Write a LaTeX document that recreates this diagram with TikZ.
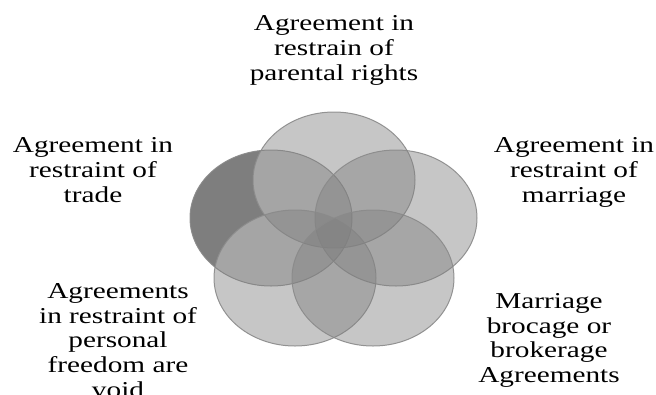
\documentclass[tikz,border=0pt]{standalone}
\usepackage{fontspec}
\setmainfont{Liberation Serif}
\definecolor{petalfill}{RGB}{128,128,128}
\definecolor{petaledge}{RGB}{138,138,138}
\definecolor{darkpetal}{RGB}{126,126,126}
\begin{document}
\begin{tikzpicture}[x=1pt,y=-1pt,
  petal/.style={fill=petalfill, fill opacity=0.45, draw=petaledge, draw opacity=0.9, line width=1pt},
  lbl/.style={font=\fontsize{22.7}{24.8}\selectfont, align=center, inner sep=0pt, anchor=north, xscale=1.29, text=black}]
\useasboundingbox (0,0) rectangle (656,394);
\coordinate (cT) at (334,180);
\coordinate (cL) at (271,218);
\coordinate (cR) at (396,218);
\coordinate (cBL) at (295,278);
\coordinate (cBR) at (373,278);
% dark non-overlapped part of the left petal
\fill[darkpetal] (cL) ellipse [x radius=81, y radius=68];
\begin{scope}
  \clip (cL) ellipse [x radius=81, y radius=68];
  \fill[white] (cT) ellipse [x radius=81, y radius=68];
  \fill[white] (cR) ellipse [x radius=81, y radius=68];
  \fill[white] (cBL) ellipse [x radius=81, y radius=68];
  \fill[white] (cBR) ellipse [x radius=81, y radius=68];
\end{scope}
% petals
\path[petal] (cL) ellipse [x radius=81, y radius=68];
\path[petal] (cT) ellipse [x radius=81, y radius=68];
\path[petal] (cR) ellipse [x radius=81, y radius=68];
\path[petal] (cBL) ellipse [x radius=81, y radius=68];
\path[petal] (cBR) ellipse [x radius=81, y radius=68];
% labels
\node[lbl] (tTop) at (334,14) {\rule{0pt}{16.5pt}Agreement in\\restrain of\\parental rights};
\node[lbl] (tLeft) at (93,136) {\rule{0pt}{16.5pt}Agreement in\\restraint of\\trade};
\node[lbl] (tRight) at (574,136) {\rule{0pt}{16.5pt}Agreement in\\restraint of\\marriage};
\node[lbl] (tBL) at (118,281.5) {\rule{0pt}{16.5pt}Agreements\\in restraint of\\personal\\freedom are\\void};
\node[lbl] (tBR) at (549,291.5) {\rule{0pt}{16.5pt}Marriage\\brocage or\\brokerage\\Agreements};
\end{tikzpicture}
\end{document}
